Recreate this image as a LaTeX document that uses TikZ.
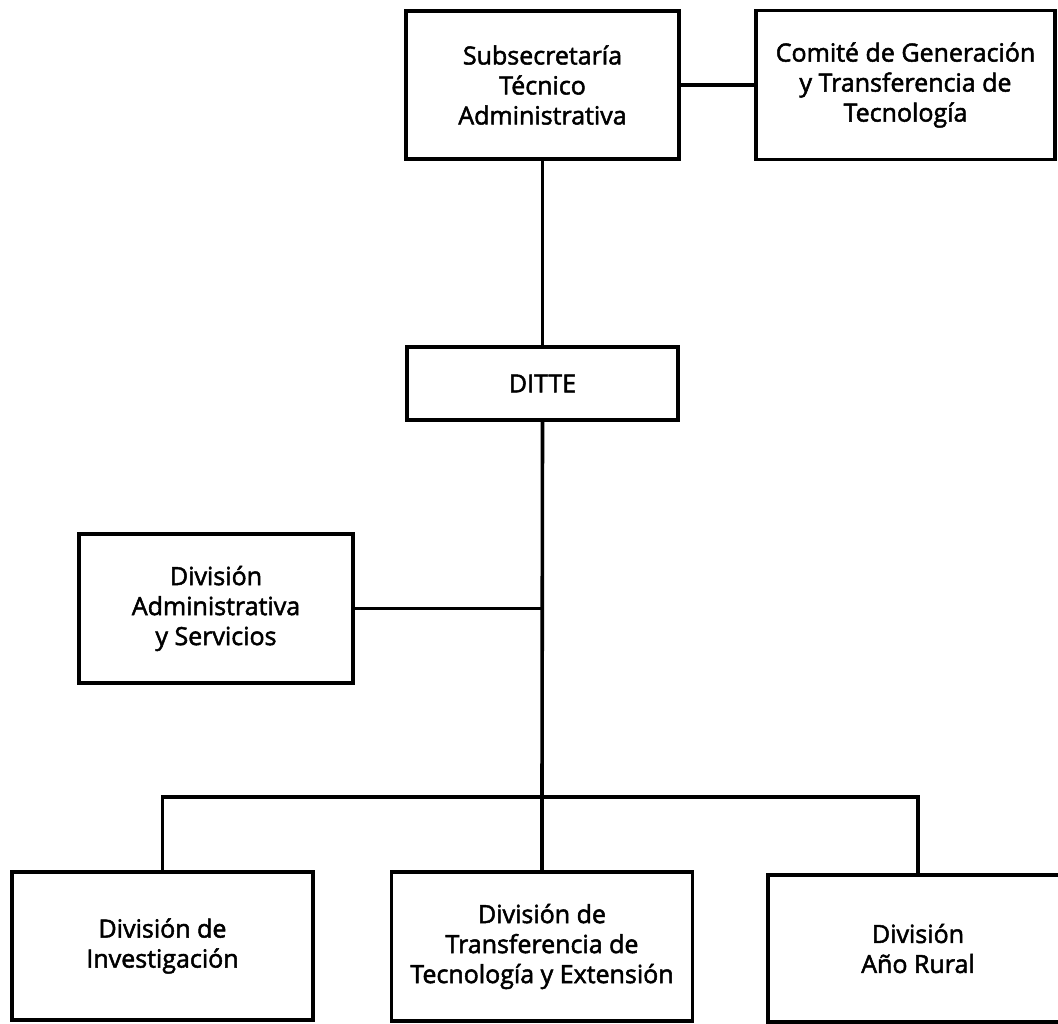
\documentclass[tikz,border=0pt]{standalone}
\usepackage{fontspec}
\setmainfont{Open Sans}[FakeBold=2]
\begin{document}
\begin{tikzpicture}[x=1pt,y=-1pt,
  orgbox/.style={draw=black, line width=3.4pt, fill=white, align=center,
    inner sep=0pt, font=\fontsize{25}{30}\selectfont, line join=miter},
  link/.style={draw=black, line width=3.6pt, line join=miter}]
\useasboundingbox (0,0) rectangle (1058,1024);
\begin{scope}
\clip (0,0) rectangle (1058,1024);
\node[orgbox, minimum width=273pt, minimum height=148pt] (sub) at (542.5,85) {Subsecretaría\\Técnico\\Administrativa};
\node[orgbox, minimum width=299pt, minimum height=149pt] (com) at (905.5,85) {Comité de Generación\\y Transferencia de\\Tecnología};
\node[orgbox, minimum width=271pt, minimum height=73pt] (ditte) at (542.5,383.5) {DITTE};
\node[orgbox, minimum width=274pt, minimum height=149pt] (adm) at (216,608.5) {División\\Administrativa\\y Servicios};
\node[orgbox, minimum width=301pt, minimum height=148pt] (inv) at (162.5,946) {División de\\Investigación};
\node[orgbox, minimum width=301pt, minimum height=149pt] (tra) at (542,946.5) {División de\\Transferencia de\\Tecnología y Extensión};
\node[orgbox, minimum width=300pt, minimum height=147pt] (ano) at (918,948.5) {División\\Año Rural};
\coordinate (bus) at (542,797);
\draw[link] (sub.east) -- (com.west);
\draw[link] (sub.south -| ditte.north) -- (ditte.north);
\draw[link] (ditte.south) -- (bus);
\draw[link] (adm.east) -- (adm.east -| bus);
\draw[link] (inv.north) |- (bus) -| (ano.north);
\draw[link] (bus) -- (tra.north);
\end{scope}
\end{tikzpicture}
\end{document}
